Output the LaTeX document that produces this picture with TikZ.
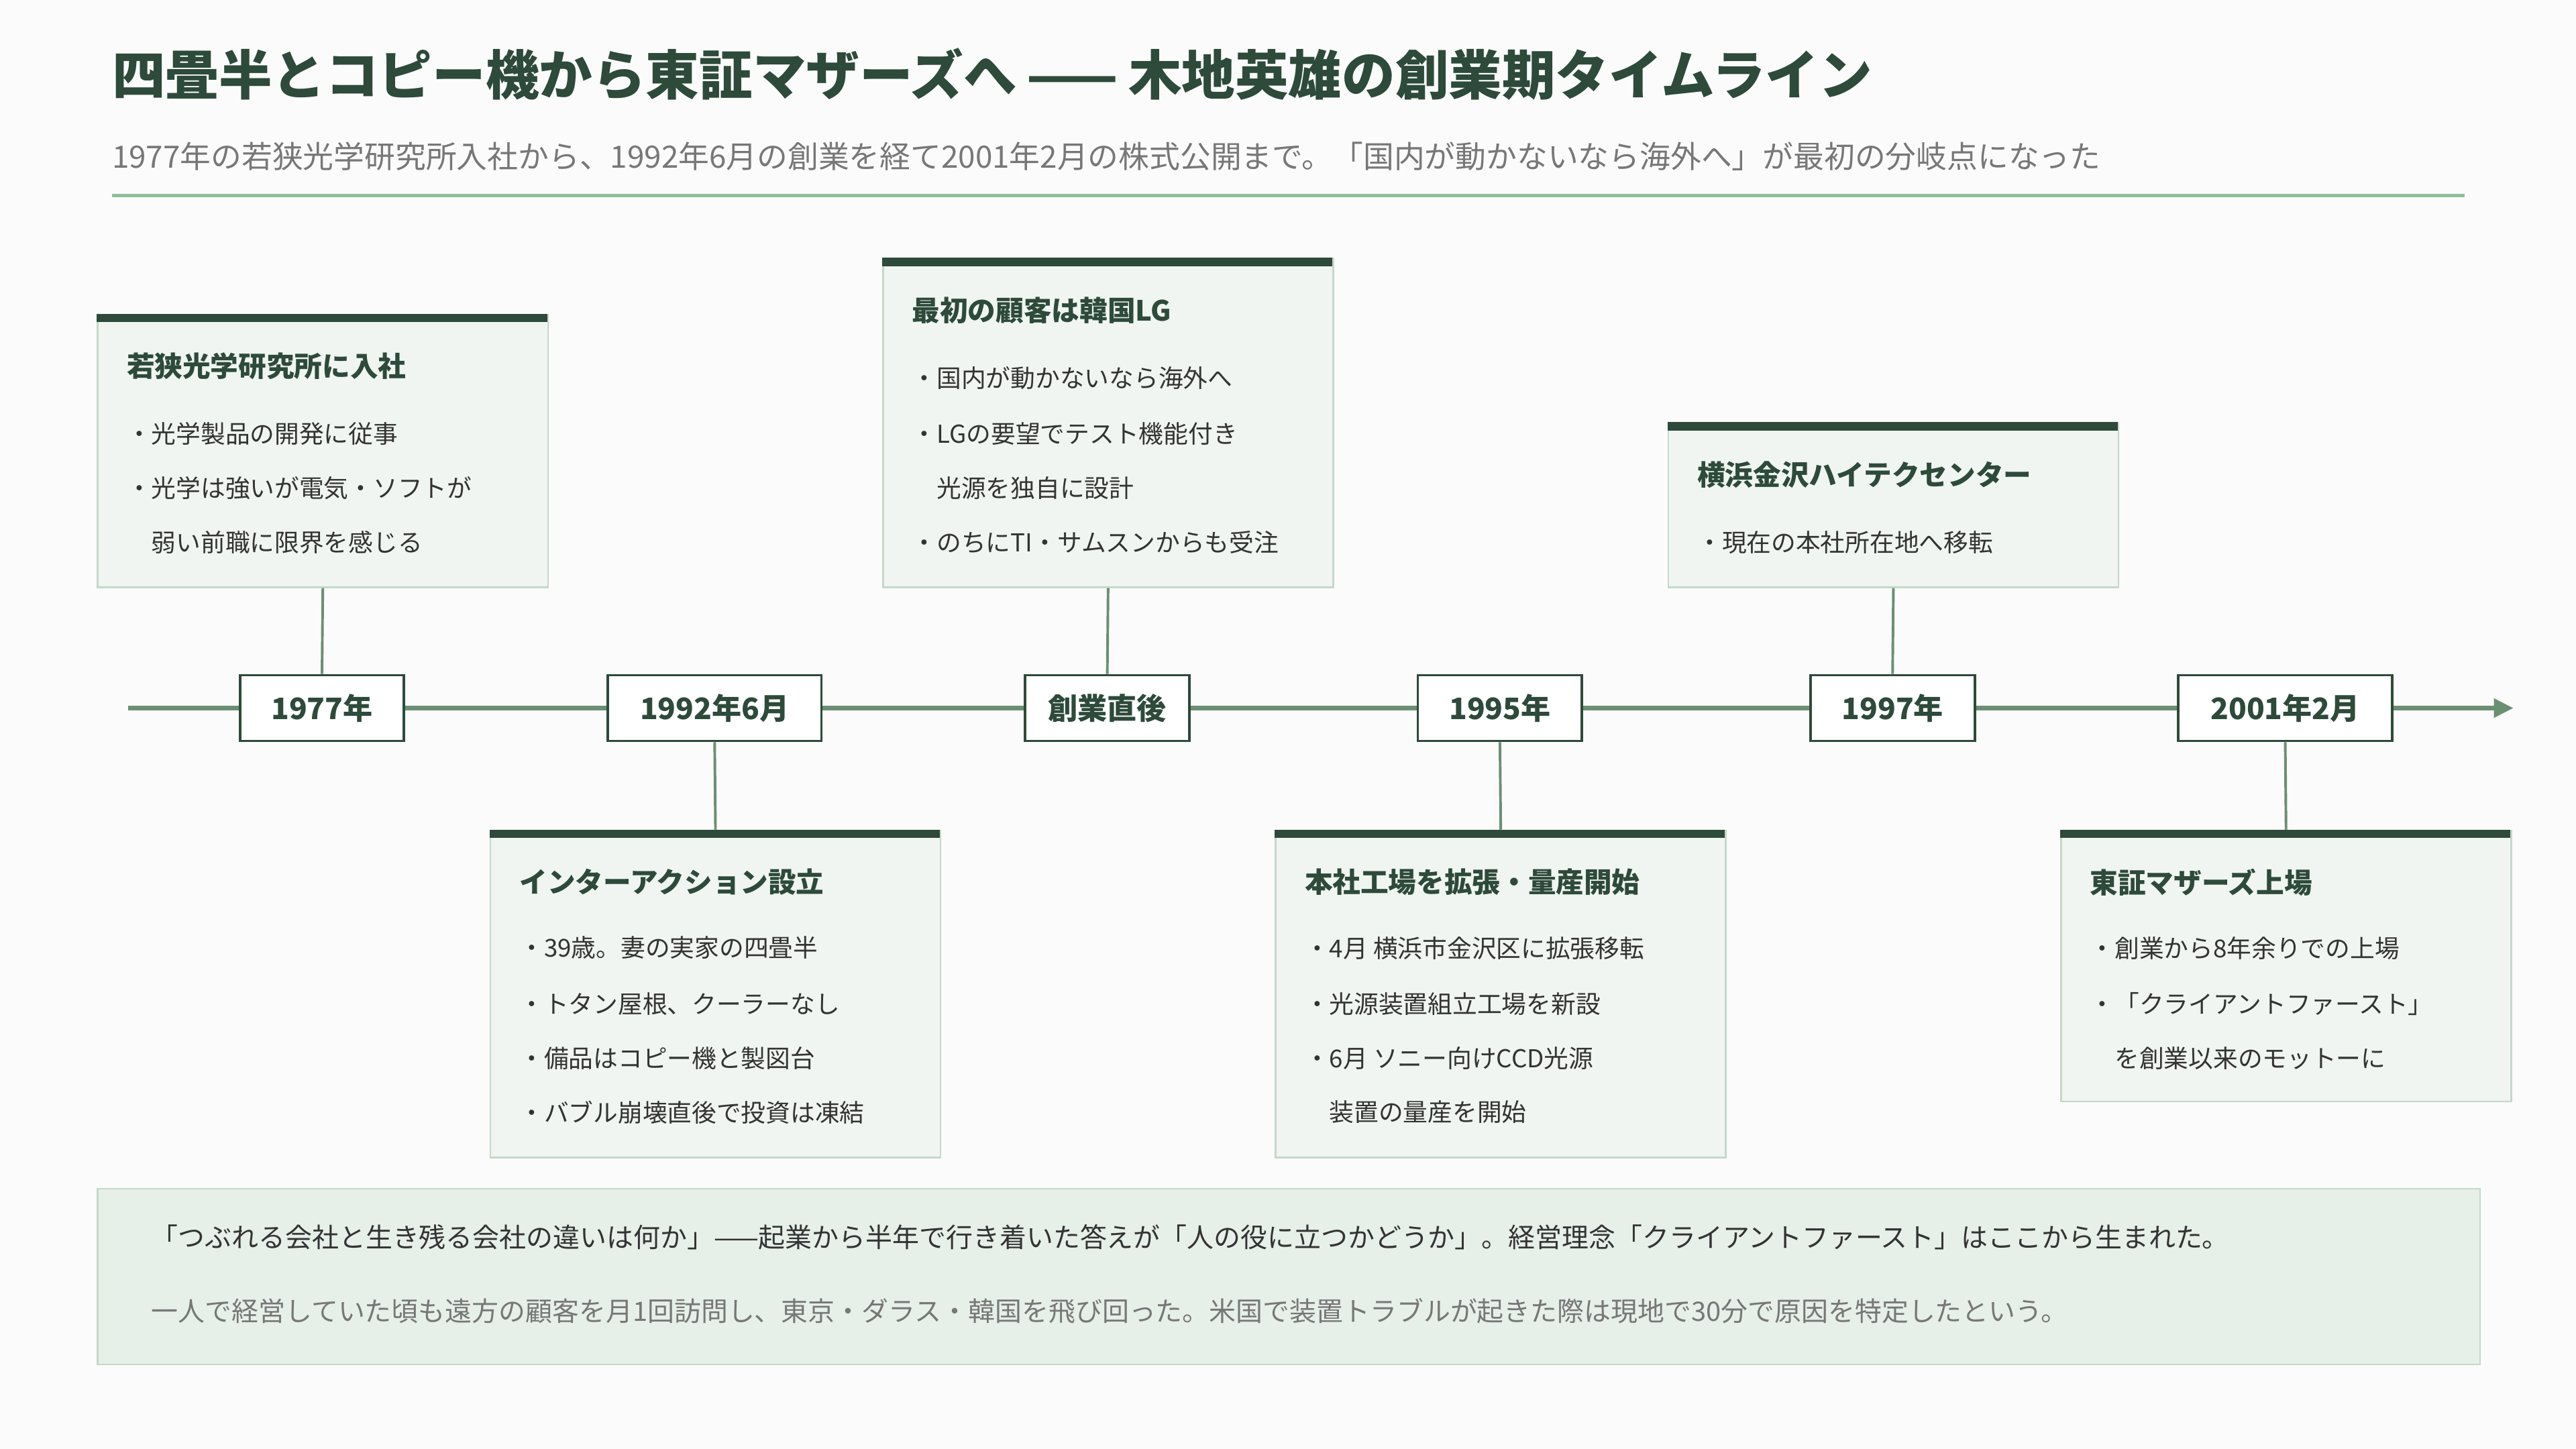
\documentclass[tikz,border=0pt]{standalone}
\usepackage{fontspec}
\setmainfont{Noto Sans CJK JP}
\usetikzlibrary{arrows.meta}
\definecolor{dk}{HTML}{2D4A3A}
\definecolor{ln}{HTML}{6B8F72}
\definecolor{cf}{HTML}{F0F5F1}
\definecolor{cb}{HTML}{C5D8C9}
\definecolor{pf}{HTML}{E6EFE8}
\definecolor{gy}{HTML}{777777}
\definecolor{tx}{HTML}{333333}
\definecolor{rule}{HTML}{8FBF9A}
\begin{document}
\begin{tikzpicture}[x=1pt,y=-1pt,
  date/.style={draw=dk,line width=1.6pt,fill=white,minimum width=100pt,minimum height=40pt,font=\fontsize{18}{21}\selectfont\bfseries,text=dk,inner sep=0},
  card/.style={fill=cf,draw=cb,line width=1pt},
  bar/.style={fill=dk,draw=none},
  ctitle/.style={anchor=west,font=\fontsize{17}{20}\selectfont\bfseries,text=dk,inner sep=0},
  bul/.style={anchor=west,font=\fontsize{15}{18}\selectfont,text=tx,inner sep=0},
  conn/.style={draw=ln,line width=1.6pt}]
\useasboundingbox (0,0) rectangle (1568,882);
\fill[white!97!gray] (0,0) rectangle (1568,882);
\node[anchor=west,inner sep=0,font=\fontsize{32.5}{36}\selectfont\bfseries,text=dk] (title) at (68,45) {四畳半とコピー機から東証マザーズへ\hspace{6pt}——\hspace{6pt}木地英雄の創業期タイムライン};
\node[anchor=west,inner sep=0,font=\fontsize{18.7}{22}\selectfont,text=gy] (sub) at (68,95) {1977年の若狭光学研究所入社から、1992年6月の創業を経て2001年2月の株式公開まで。「国内が動かないなら海外へ」が最初の分岐点になった};
\coordinate (r1) at (68,119); \coordinate (r2) at (1500,119);
\draw[rule,line width=2pt] (r1) -- (r2);
\coordinate (ts) at (78,431); \coordinate (te) at (1530,431);
\draw[conn,line width=3pt,-{Triangle[length=12pt,width=11pt]}] (ts) -- (te);
\node[date] (d1) at (196,431) {1977年};
\node[date,minimum width=130pt] (d2) at (435,431) {1992年6月};
\node[date] (d3) at (674,431) {創業直後};
\node[date] (d4) at (913,431) {1995年};
\node[date] (d5) at (1152,431) {1997年};
\node[date,minimum width=130pt] (d6) at (1391,431) {2001年2月};
\newcommand{\mycard}[5]{%
  \node[card,anchor=north west,minimum width=274pt,minimum height={#4-#3},inner sep=0] (#1) at (#2,#3) {};
  \fill[bar] (#2,#3) rectangle ++(274,5);
  \node[ctitle] (#1t) at (#2+18,#3+32) {#5};}
\mycard{c1}{59}{191}{357}{若狭光学研究所に入社}
\node[bul] at (77,264) {・光学製品の開発に従事};
\node[bul] at (77,297) {・光学は強いが電気・ソフトが};
\node[bul] at (77,330) {\hspace{15pt}弱い前職に限界を感じる};
\mycard{c2}{537}{157}{357}{最初の顧客は韓国LG}
\node[bul] at (555,230) {・国内が動かないなら海外へ};
\node[bul] at (555,264) {・LGの要望でテスト機能付き};
\node[bul] at (555,297) {\hspace{15pt}光源を独自に設計};
\node[bul] at (555,330) {・のちにTI・サムスンからも受注};
\mycard{c3}{1015}{257}{357}{横浜金沢ハイテクセンター}
\node[bul] at (1033,330) {・現在の本社所在地へ移転};
\mycard{c4}{298}{505}{704}{インターアクション設立}
\node[bul] at (316,577) {・39歳。妻の実家の四畳半};
\node[bul] at (316,611) {・トタン屋根、クーラーなし};
\node[bul] at (316,644) {・備品はコピー機と製図台};
\node[bul] at (316,677) {・バブル崩壊直後で投資は凍結};
\mycard{c5}{776}{505}{704}{本社工場を拡張・量産開始}
\node[bul] at (794,577) {・4月 横浜市金沢区に拡張移転};
\node[bul] at (794,611) {・光源装置組立工場を新設};
\node[bul] at (794,644) {・6月 ソニー向けCCD光源};
\node[bul] at (794,677) {\hspace{15pt}装置の量産を開始};
\mycard{c6}{1254}{505}{670}{東証マザーズ上場}
\node[bul] at (1272,577) {・創業から8年余りでの上場};
\node[bul] at (1272,611) {・「クライアントファースト」};
\node[bul] at (1272,644) {\hspace{15pt}を創業以来のモットーに};
\draw[conn] (d1.north) -- (c1.south);
\draw[conn] (d3.north) -- (c2.south);
\draw[conn] (d5.north) -- (c3.south);
\draw[conn] (d2.south) -- (c4.north);
\draw[conn] (d4.south) -- (c5.north);
\draw[conn] (d6.south) -- (c6.north);
\node[fill=pf,draw=cb,line width=1pt,anchor=north west,minimum width=1450pt,minimum height=107pt,inner sep=0] (panel) at (59,723) {};
\node[anchor=west,inner sep=0,font=\fontsize{16.3}{19}\selectfont,text=tx] (p1) at (92,753) {「つぶれる会社と生き残る会社の違いは何か」——起業から半年で行き着いた答えが「人の役に立つかどうか」。経営理念「クライアントファースト」はここから生まれた。};
\node[anchor=west,inner sep=0,font=\fontsize{16.3}{19}\selectfont,text=gy] (p2) at (92,798) {一人で経営していた頃も遠方の顧客を月1回訪問し、東京・ダラス・韓国を飛び回った。米国で装置トラブルが起きた際は現地で30分で原因を特定したという。};
\end{tikzpicture}
\end{document}
